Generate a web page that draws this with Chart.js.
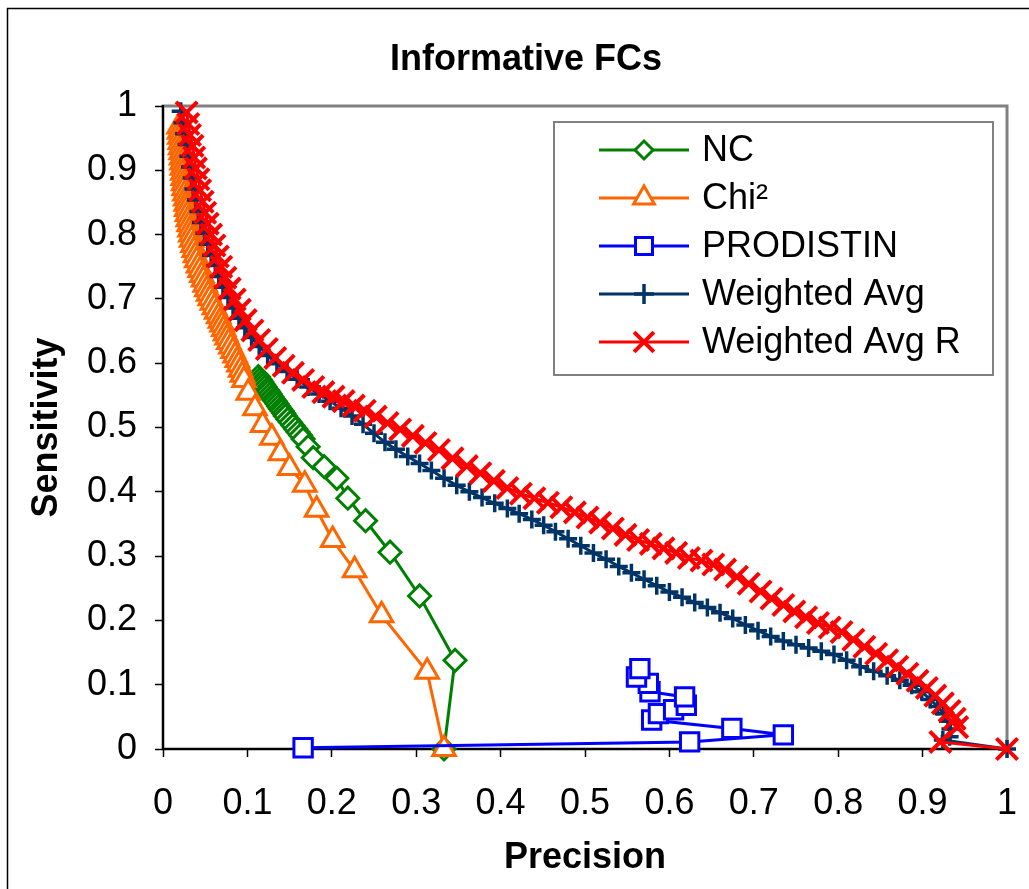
<!DOCTYPE html>
<html>
<head>
<meta charset="utf-8">
<script src="https://cdn.jsdelivr.net/npm/chart.js@4.4.0/dist/chart.umd.min.js"></script>
<style>
html, body { margin: 0; padding: 0; background: #fff; }
</style>
</head>
<body>
<canvas id="prChart" width="1029" height="889"></canvas>
<script>
// series names + colours (legend order)
var seriesNames = ["NC", "Chi\u00b2", "PRODISTIN", "Weighted Avg", "Weighted Avg R"];
var seriesColors = ["#008000", "#FF6600", "#0000FF", "#003366", "#FF0000"];

// axis setup
var axisMin = 0;
var axisMax = 1;
var tickStep = 0.1;

// [precision, sensitivity]
var ncPoints = [
    [0.113, 0.579], [0.115, 0.575], [0.117, 0.571], [0.119, 0.567], [0.121, 0.563],
    [0.123, 0.559], [0.125, 0.556], [0.127, 0.552], [0.129, 0.548], [0.131, 0.544],
    [0.133, 0.541], [0.135, 0.537], [0.137, 0.533], [0.139, 0.529], [0.141, 0.526],
    [0.143, 0.522], [0.145, 0.518], [0.148, 0.513], [0.151, 0.508], [0.154, 0.503],
    [0.157, 0.498], [0.160, 0.493], [0.163, 0.488], [0.166, 0.482], [0.172, 0.470],
    [0.178, 0.453], [0.191, 0.439], [0.206, 0.421], [0.219, 0.390], [0.240, 0.355],
    [0.269, 0.306], [0.304, 0.238], [0.346, 0.138], [0.333, 0.000]
];

var chiPoints = [
    [0.019, 0.968], [0.0195, 0.960], [0.020, 0.952], [0.0205, 0.944], [0.021, 0.936],
    [0.0215, 0.928], [0.022, 0.920], [0.0225, 0.912], [0.023, 0.904], [0.0235, 0.896],
    [0.024, 0.888], [0.0245, 0.880], [0.025, 0.872], [0.026, 0.864], [0.027, 0.856],
    [0.0275, 0.848], [0.028, 0.840], [0.029, 0.832], [0.030, 0.824], [0.031, 0.816],
    [0.032, 0.808], [0.033, 0.800], [0.034, 0.792], [0.0355, 0.784], [0.037, 0.776],
    [0.0385, 0.768], [0.040, 0.760], [0.042, 0.752], [0.044, 0.745], [0.046, 0.737],
    [0.048, 0.730], [0.050, 0.722], [0.052, 0.715], [0.054, 0.708], [0.056, 0.701],
    [0.0585, 0.694], [0.061, 0.687], [0.0635, 0.680], [0.066, 0.673], [0.068, 0.666],
    [0.070, 0.660], [0.072, 0.653], [0.074, 0.646], [0.076, 0.640], [0.078, 0.633],
    [0.0805, 0.626], [0.083, 0.619], [0.0855, 0.612], [0.088, 0.605], [0.090, 0.598],
    [0.092, 0.590], [0.094, 0.582], [0.096, 0.574], [0.101, 0.554], [0.109, 0.530],
    [0.118, 0.504], [0.129, 0.484], [0.139, 0.460], [0.150, 0.437], [0.168, 0.411],
    [0.182, 0.372], [0.201, 0.325], [0.227, 0.278], [0.259, 0.208], [0.313, 0.120],
    [0.333, 0.000]
];

var prodistinPoints = [
    [0.166, 0.002], [0.624, 0.011], [0.735, 0.022], [0.674, 0.032], [0.579, 0.045],
    [0.587, 0.055], [0.605, 0.061], [0.620, 0.068], [0.618, 0.081], [0.577, 0.089],
    [0.575, 0.102], [0.561, 0.112], [0.565, 0.125]
];

var wavgPoints = [
    [0.021, 0.992], [0.023, 0.974], [0.025, 0.957], [0.028, 0.940], [0.030, 0.922],
    [0.032, 0.905], [0.034, 0.888], [0.036, 0.871], [0.039, 0.854], [0.042, 0.836],
    [0.045, 0.819], [0.049, 0.802], [0.053, 0.785], [0.057, 0.768], [0.062, 0.752],
    [0.066, 0.735], [0.071, 0.718], [0.077, 0.702], [0.083, 0.686], [0.090, 0.670],
    [0.097, 0.655], [0.105, 0.640], [0.114, 0.626], [0.124, 0.612], [0.135, 0.599],
    [0.147, 0.587], [0.159, 0.575], [0.172, 0.563], [0.185, 0.552], [0.198, 0.541],
    [0.211, 0.530], [0.224, 0.518], [0.237, 0.505], [0.250, 0.491], [0.263, 0.477],
    [0.276, 0.466], [0.290, 0.455], [0.304, 0.444], [0.318, 0.433], [0.333, 0.421],
    [0.348, 0.410], [0.363, 0.400], [0.378, 0.391], [0.393, 0.382], [0.408, 0.374],
    [0.422, 0.366], [0.437, 0.357], [0.451, 0.348], [0.465, 0.338], [0.480, 0.327],
    [0.495, 0.316], [0.510, 0.305], [0.525, 0.295], [0.540, 0.284], [0.555, 0.274],
    [0.570, 0.264], [0.585, 0.254], [0.600, 0.244], [0.615, 0.236], [0.630, 0.228],
    [0.645, 0.220], [0.660, 0.212], [0.675, 0.203], [0.690, 0.193], [0.705, 0.184],
    [0.720, 0.175], [0.735, 0.168], [0.750, 0.162], [0.765, 0.157], [0.780, 0.152],
    [0.795, 0.147], [0.810, 0.138], [0.826, 0.128], [0.842, 0.121], [0.858, 0.114],
    [0.873, 0.107], [0.887, 0.099], [0.899, 0.089], [0.909, 0.077], [0.918, 0.066],
    [0.925, 0.055], [0.930, 0.043], [0.933, 0.031], [0.932, 0.019], [0.924, 0.014],
    [1.000, 0.000]
];

var wavgRPoints = [
    [0.028, 0.990], [0.030, 0.972], [0.032, 0.955], [0.035, 0.938], [0.037, 0.920],
    [0.039, 0.903], [0.042, 0.886], [0.044, 0.869], [0.047, 0.851], [0.050, 0.834],
    [0.053, 0.817], [0.057, 0.800], [0.061, 0.783], [0.065, 0.766], [0.069, 0.750],
    [0.074, 0.733], [0.079, 0.716], [0.085, 0.699], [0.091, 0.683], [0.098, 0.667],
    [0.106, 0.651], [0.114, 0.636], [0.123, 0.622], [0.133, 0.608], [0.143, 0.596],
    [0.154, 0.585], [0.166, 0.574], [0.178, 0.563], [0.190, 0.555], [0.202, 0.548],
    [0.214, 0.541], [0.226, 0.534], [0.239, 0.526], [0.252, 0.517], [0.266, 0.507],
    [0.281, 0.497], [0.296, 0.487], [0.311, 0.476], [0.327, 0.465], [0.343, 0.452],
    [0.360, 0.440], [0.376, 0.429], [0.392, 0.417], [0.408, 0.406], [0.424, 0.397],
    [0.440, 0.390], [0.456, 0.383], [0.472, 0.376], [0.488, 0.368], [0.503, 0.360],
    [0.518, 0.352], [0.533, 0.343], [0.548, 0.333], [0.563, 0.325], [0.578, 0.319],
    [0.593, 0.312], [0.608, 0.305], [0.623, 0.297], [0.638, 0.293], [0.652, 0.287],
    [0.666, 0.279], [0.680, 0.268], [0.694, 0.257], [0.708, 0.245], [0.721, 0.234],
    [0.735, 0.224], [0.748, 0.214], [0.762, 0.205], [0.776, 0.196], [0.790, 0.189],
    [0.804, 0.182], [0.818, 0.170], [0.831, 0.159], [0.845, 0.148], [0.858, 0.138],
    [0.870, 0.128], [0.882, 0.117], [0.894, 0.106], [0.905, 0.095], [0.915, 0.083],
    [0.924, 0.071], [0.932, 0.059], [0.938, 0.047], [0.941, 0.034], [0.921, 0.011],
    [1.000, 0.000]
];

var fontFamily = '"Liberation Sans", Arial, sans-serif';

function toXY(p) {
    return { x: p[0], y: p[1] };
}

function makeSet(i, pts, style, radius, pointWidth) {
    return {
        label: seriesNames[i],
        data: pts.map(toXY),
        showLine: true,
        borderColor: seriesColors[i],
        backgroundColor: seriesColors[i],
        borderWidth: 3,
        pointStyle: style,
        pointRadius: radius,
        pointBorderWidth: pointWidth,
        pointBorderColor: seriesColors[i],
        pointBackgroundColor: "#ffffff",
        tension: 0,
        clip: false,
        order: 5 - i
    };
}

// "0", "0.1", ... "1" like the original axis
function tickLabel(value) {
    return String(Math.round(value * 10) / 10);
}

// legend marker sizes
var legendRadius = [9, 12, 12, 10, 14];

// white page, outer frame, grey plot border, title
var framePlugin = {
    id: "frame",
    beforeDraw: function(chart) {
        var ctx = chart.ctx;
        var a = chart.chartArea;
        ctx.save();
        ctx.fillStyle = "#ffffff";
        ctx.fillRect(0, 0, chart.width, chart.height);
        ctx.strokeStyle = "#000000";
        ctx.lineWidth = 1.5;
        ctx.strokeRect(7.5, 8.5, 1100, 1000);
        ctx.strokeStyle = "#808080";
        ctx.lineWidth = 3;
        ctx.strokeRect(a.left, a.top, a.right - a.left, a.bottom - a.top);
        ctx.fillStyle = "#000000";
        ctx.font = "bold 36px " + fontFamily;
        ctx.textAlign = "center";
        ctx.textBaseline = "middle";
        ctx.fillText("Informative FCs", 526, 60);
        ctx.restore();
    }
};

// excel style legend: line sample with marker in the middle
var boxLegend = {
    id: "boxLegend",
    afterDraw: function(chart) {
        var ctx = chart.ctx;
        ctx.save();
        ctx.fillStyle = "#ffffff";
        ctx.fillRect(554, 122, 439, 253);
        ctx.strokeStyle = "#808080";
        ctx.lineWidth = 2;
        ctx.strokeRect(554, 122, 439, 253);

        chart.data.datasets.forEach(function(ds, i) {
            var y = 150 + i * 48;
            ctx.strokeStyle = ds.borderColor;
            ctx.lineWidth = 3;
            ctx.beginPath();
            ctx.moveTo(599, y);
            ctx.lineTo(689, y);
            ctx.stroke();

            ctx.fillStyle = "#ffffff";
            ctx.strokeStyle = ds.borderColor;
            ctx.lineWidth = ds.pointBorderWidth;
            Chart.helpers.drawPoint(ctx, {
                pointStyle: ds.pointStyle,
                radius: legendRadius[i],
                borderWidth: ds.pointBorderWidth,
                rotation: 0
            }, 644, y);

            ctx.fillStyle = "#000000";
            ctx.font = "36px " + fontFamily;
            ctx.textAlign = "left";
            ctx.textBaseline = "middle";
            ctx.fillText(ds.label, 702, y + 1);
        });
        ctx.restore();
    }
};

new Chart("prChart", {
    type: "scatter",
    data: {
        datasets: [
            makeSet(0, ncPoints, "rectRot", 11, 3),
            makeSet(1, chiPoints, "triangle", 13, 3),
            makeSet(2, prodistinPoints, "rect", 13, 3),
            makeSet(3, wavgPoints, "cross", 9, 3.5),
            makeSet(4, wavgRPoints, "crossRot", 15, 4)
        ]
    },
    options: {
        responsive: false,
        animation: false,
        events: [],
        layout: {
            padding: { top: 106, right: 22, bottom: 0, left: 0 }
        },
        plugins: {
            legend: { display: false },
            title: { display: false },
            tooltip: { enabled: false }
        },
        scales: {
            x: {
                type: "linear",
                min: axisMin,
                max: axisMax,
                afterFit: function(scale) {
                    // fixed plot box: labels may hang into the padding
                    scale.height = 140;
                    scale.paddingLeft = 0;
                    scale.paddingRight = 0;
                },
                ticks: {
                    stepSize: tickStep,
                    padding: 25,
                    color: "#000",
                    callback: tickLabel,
                    font: { family: fontFamily, size: 36 }
                },
                grid: {
                    drawOnChartArea: false,
                    drawTicks: true,
                    tickLength: 8,
                    tickColor: "#000",
                    tickWidth: 1.5
                },
                border: { display: true, color: "#000", width: 2 },
                title: {
                    display: true,
                    text: "Precision",
                    color: "#000",
                    padding: { top: 0, bottom: 9 },
                    font: { family: fontFamily, size: 36, weight: "bold" }
                }
            },
            y: {
                type: "linear",
                min: axisMin,
                max: axisMax,
                afterFit: function(scale) {
                    scale.width = 163;
                    scale.paddingTop = 0;
                    scale.paddingBottom = 0;
                },
                ticks: {
                    stepSize: tickStep,
                    padding: 18,
                    color: "#000",
                    callback: tickLabel,
                    font: { family: fontFamily, size: 36 }
                },
                grid: {
                    drawOnChartArea: false,
                    drawTicks: true,
                    tickLength: 8,
                    tickColor: "#000",
                    tickWidth: 1.5
                },
                border: { display: true, color: "#000", width: 2 },
                title: {
                    display: true,
                    text: "Sensitivity",
                    color: "#000",
                    padding: { top: 25, bottom: 0 },
                    font: { family: fontFamily, size: 36, weight: "bold" }
                }
            }
        }
    },
    plugins: [framePlugin, boxLegend]
});
</script>
</body>
</html>
